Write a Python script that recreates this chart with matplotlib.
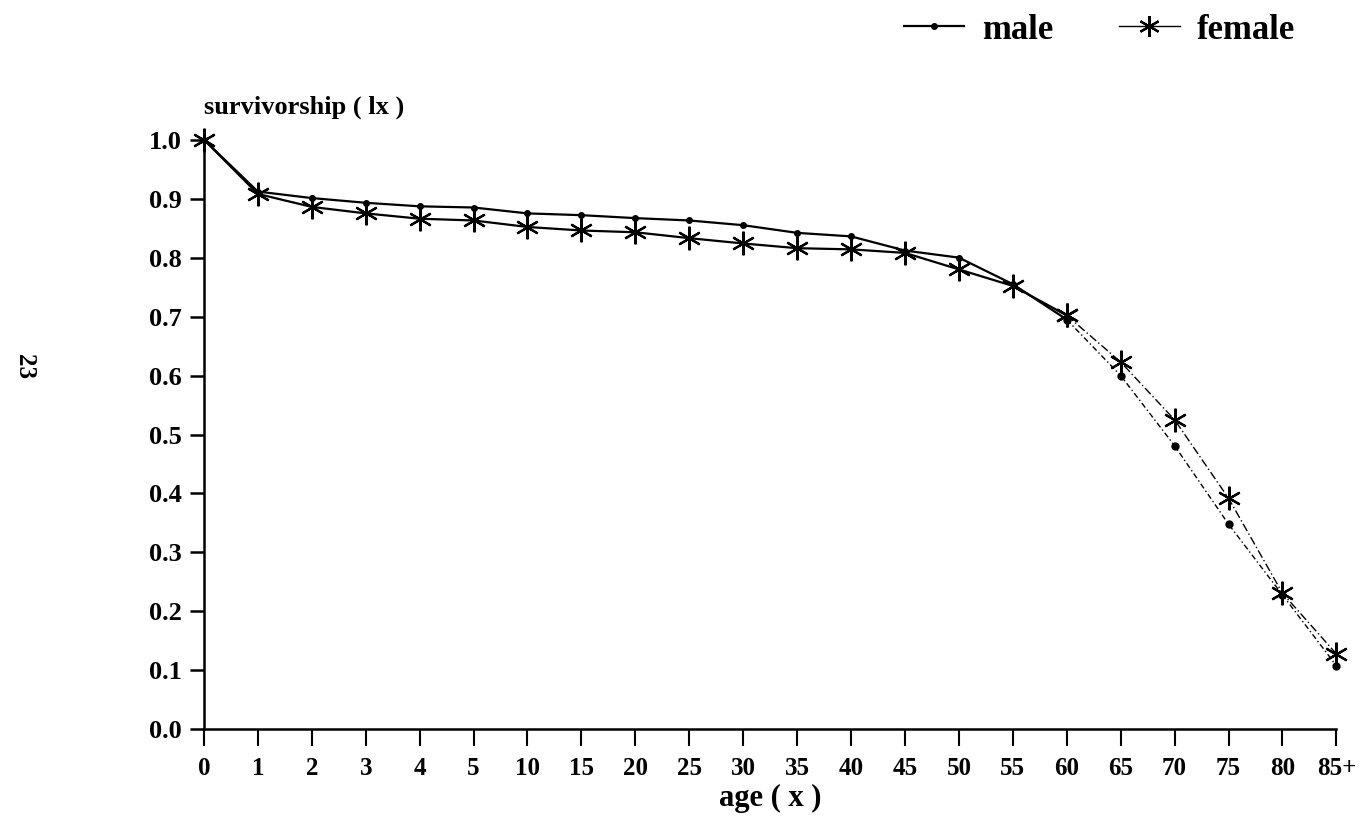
import matplotlib
matplotlib.use("Agg")
import matplotlib.pyplot as plt
import numpy as np

ages = ["0", "1", "2", "3", "4", "5", "10", "15", "20", "25", "30", "35",
        "40", "45", "50", "55", "60", "65", "70", "75", "80", "85+"]
male = [1.0, 0.912, 0.901, 0.893, 0.887, 0.885, 0.875, 0.872, 0.867, 0.863,
        0.855, 0.842, 0.836, 0.812, 0.800, 0.755, 0.695, 0.600, 0.481, 0.348,
        0.228, 0.108]
female = [1.0, 0.908, 0.886, 0.875, 0.866, 0.863, 0.852, 0.846, 0.843, 0.833,
          0.824, 0.816, 0.814, 0.808, 0.780, 0.752, 0.702, 0.623, 0.525, 0.392,
          0.231, 0.128]
yticks = [0.0, 0.1, 0.2, 0.3, 0.4, 0.5, 0.6, 0.7, 0.8, 0.9, 1.0]

plt.rcParams["font.family"] = ["Liberation Serif", "DejaVu Serif"]
plt.rcParams["font.weight"] = "bold"

fig = plt.figure(figsize=(13.66, 8.34), dpi=100)
ax = fig.add_axes([0.1493, 0.1255, 0.829, 0.707])

x = np.arange(len(ages))
split = 16  # last points are printed fainter / broken in the original

star = (6, 2, 0)
ax.plot(x[:split + 1], male[:split + 1], color="black", lw=1.6,
        marker="o", ms=4, clip_on=False, zorder=3)
ax.plot(x[split:], male[split:], color="black", lw=1.0, ls=(0, (4, 2, 1, 2)),
        marker="o", ms=5, clip_on=False, zorder=3)
ax.plot(x[:split + 1], female[:split + 1], color="black", lw=1.6,
        marker=star, ms=17, mew=1.6, clip_on=False, zorder=3)
ax.plot(x[split:], female[split:], color="black", lw=1.0, ls=(0, (6, 2, 1, 2)),
        marker=star, ms=17, mew=1.6, clip_on=False, zorder=3)

ax.set_xlim(0, len(ages) - 1)
ax.set_ylim(0, 1.0)
ax.set_xticks(x)
ax.set_xticklabels(ages)
ax.set_yticks(yticks)
ax.set_yticklabels(["%.1f" % v for v in yticks])

for s in ["top", "right"]:
    ax.spines[s].set_visible(False)
ax.spines["left"].set_linewidth(1.8)
ax.spines["bottom"].set_linewidth(1.8)
ax.tick_params(axis="y", direction="out", length=10, width=1.8, labelsize=19, pad=6)
ax.tick_params(axis="x", direction="out", length=12, width=1.5, labelsize=18, pad=8)

ax.text(0.0, 1.035, "survivorship ( lx )", transform=ax.transAxes,
        fontsize=19, ha="left", va="bottom")
ax.set_xlabel("age ( x )", fontsize=22, fontweight="bold", labelpad=3)

fig.text(0.018, 0.56, "23", rotation=-90, fontsize=18, ha="center", va="center")

# legend in the top right corner
h1, = ax.plot([], [], color="black", lw=1.6, marker="o", ms=4)
h2, = ax.plot([], [], color="black", lw=1.0, marker=star, ms=15, mew=1.6)
fig.legend([h1, h2], ["male", "female"], loc="upper right",
           bbox_to_anchor=(0.952, 0.99), borderaxespad=0, borderpad=0.15,
           ncol=2, frameon=False, fontsize=25, handlelength=1.75,
           columnspacing=1.9, handletextpad=0.5)

fig.savefig("out.png", dpi=100, facecolor="white")
